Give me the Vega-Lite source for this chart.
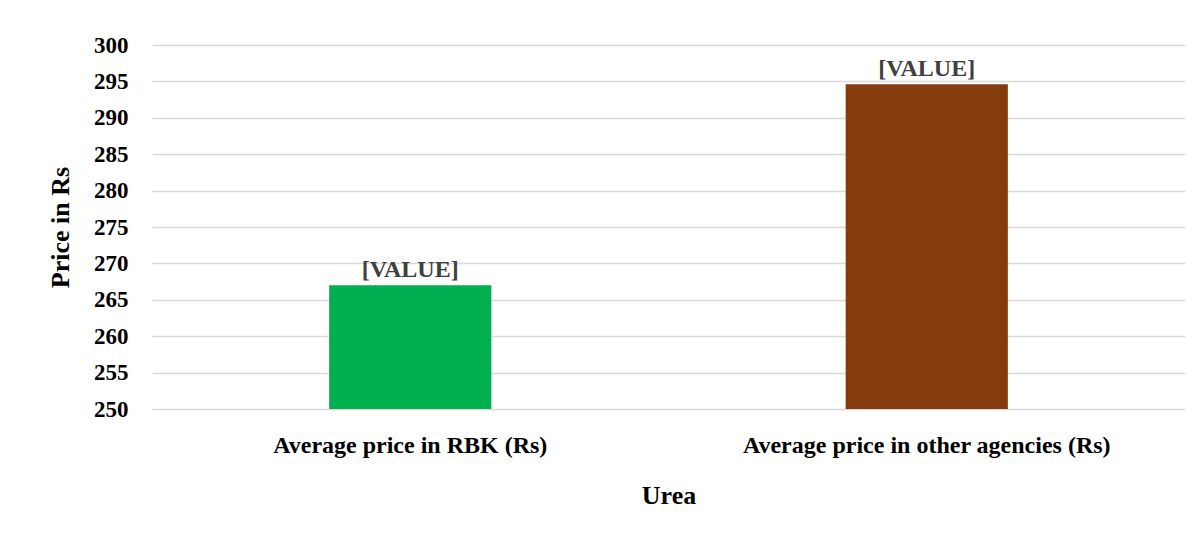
{
  "$schema": "https://vega.github.io/schema/vega-lite/v6.json",
  "autosize": "none",
  "width": 1033,
  "height": 364,
  "padding": {"left": 152, "top": 45, "right": 15, "bottom": 124},
  "background": "white",
  "config": {
    "view": {"stroke": null},
    "font": "Liberation Serif"
  },
  "data": {
    "values": [
      {"category": "Average price in RBK (Rs)", "price": 267, "label": "[VALUE]"},
      {"category": "Average price in other agencies (Rs)", "price": 294.6, "label": "[VALUE]"}
    ]
  },
  "encoding": {
    "x": {
      "field": "category",
      "type": "nominal",
      "sort": null,
      "scale": {"paddingInner": 0.686, "paddingOuter": 0.343},
      "axis": {
        "title": "Urea",
        "titleFont": "Liberation Serif",
        "titleFontSize": 26,
        "titleFontWeight": "bold",
        "titleColor": "black",
        "titlePadding": 25,
        "labelAngle": 0,
        "labelFont": "Liberation Serif",
        "labelFontSize": 24,
        "labelFontWeight": "bold",
        "labelColor": "black",
        "labelPadding": 24,
        "labelLimit": 0,
        "ticks": false,
        "domain": false
      }
    },
    "y": {
      "field": "price",
      "type": "quantitative",
      "scale": {"domain": [250, 300], "zero": false, "clamp": true},
      "axis": {
        "title": "Price in Rs",
        "titleFont": "Liberation Serif",
        "titleFontSize": 26,
        "titleFontWeight": "bold",
        "titleColor": "black",
        "titlePadding": 20,
        "values": [250, 255, 260, 265, 270, 275, 280, 285, 290, 295, 300],
        "labelFont": "Liberation Serif",
        "labelFontSize": 23,
        "labelFontWeight": "bold",
        "labelColor": "black",
        "labelPadding": 24,
        "ticks": false,
        "domain": false,
        "grid": true,
        "gridColor": "#d9d9d9",
        "gridWidth": 1.5
      }
    }
  },
  "layer": [
    {
      "mark": {"type": "bar"},
      "encoding": {
        "y2": {"datum": 250},
        "color": {
          "field": "category",
          "type": "nominal",
          "scale": {
            "domain": ["Average price in RBK (Rs)", "Average price in other agencies (Rs)"],
            "range": ["#00b050", "#843c0c"]
          },
          "legend": null
        }
      }
    },
    {
      "mark": {
        "type": "text",
        "baseline": "alphabetic",
        "dy": -8,
        "font": "Liberation Serif",
        "fontSize": 24,
        "fontWeight": "bold",
        "color": "#404040"
      },
      "encoding": {
        "text": {"field": "label"}
      }
    }
  ]
}
